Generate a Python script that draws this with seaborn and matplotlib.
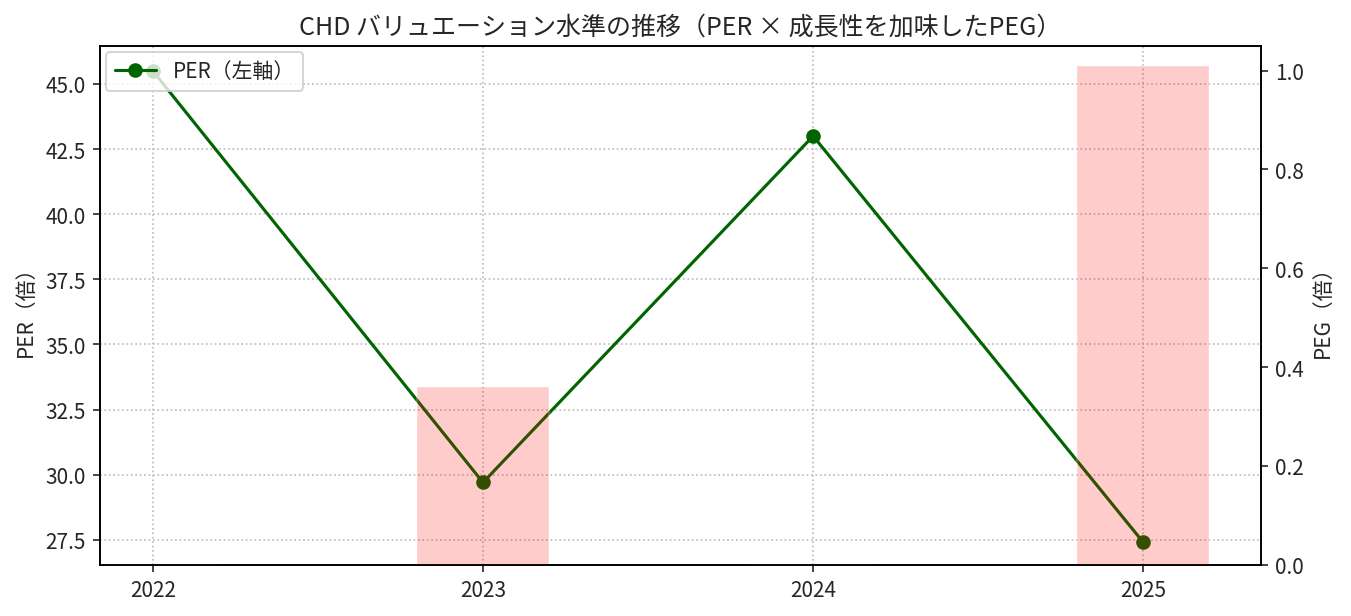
import matplotlib
matplotlib.use("Agg")
import matplotlib.pyplot as plt
import seaborn as sns
import numpy as np
import pandas as pd

years = ["2022", "2023", "2024", "2025"]
per = [45.5, 29.7, 43.0, 27.4]
peg = [np.nan, 0.36, np.nan, 1.01]

sns.set_style("white")
plt.rcParams['font.family'] = ['Noto Sans CJK JP', 'DejaVu Sans']

fig, ax = plt.subplots(figsize=(9.007, 4.113), dpi=150)
pos = np.arange(len(years))
df = pd.DataFrame({"x": pos, "per": per, "peg": peg})
sns.lineplot(data=df, x="x", y="per", marker="o", color="darkgreen", ax=ax,
             label="PER（左軸）", markeredgewidth=0, markersize=7)
ax.set_ylim(26.54, 46.46)
ax.set_xlim(-0.16, 3.355)
ax.set_xticks(pos)
ax.set_xticklabels(years)
ax.set_xlabel("")
ax.set_ylabel("PER（倍）")
ax.grid(True, linestyle=":", color="#bbbbbb")
ax.set_title("CHD バリュエーション水準の推移（PER × 成長性を加味したPEG）")
ax.legend(loc="upper left", borderaxespad=0.3)

ax2 = ax.twinx()
ax2.bar(pos, np.nan_to_num(peg), width=0.4, color="red", alpha=0.2)
ax2.set_ylim(0, 1.05)
ax2.set_ylabel("PEG（倍）")
for a in (ax, ax2):
    for s in a.spines.values():
        s.set_color("black")
ax.tick_params(left=True, bottom=True)
ax2.tick_params(right=True)
fig.subplots_adjust(left=0.074, right=0.933, top=0.924, bottom=0.083)
fig.savefig("out.png")
